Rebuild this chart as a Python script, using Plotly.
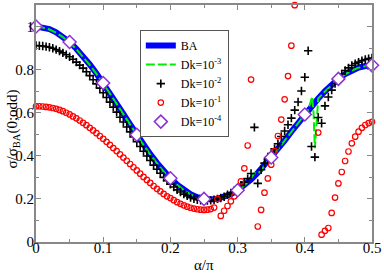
import plotly.graph_objects as go

# ---- data ----
x_ba = [0.00, 0.01, 0.02, 0.03, 0.04, 0.05, 0.06, 0.07, 0.08, 0.09,
        0.10, 0.11, 0.12, 0.13, 0.14, 0.15, 0.16, 0.17, 0.18, 0.19,
        0.20, 0.21, 0.22, 0.23, 0.24, 0.25, 0.26, 0.27, 0.28, 0.29,
        0.30, 0.31, 0.32, 0.33, 0.34, 0.35, 0.36, 0.37, 0.38, 0.39,
        0.40, 0.41, 0.42, 0.43, 0.44, 0.45, 0.46, 0.47, 0.48, 0.49, 0.50]
y_ba = [1.000, 0.997, 0.988, 0.973, 0.953, 0.928, 0.897, 0.863, 0.824, 0.782,
        0.738, 0.691, 0.643, 0.594, 0.546, 0.498, 0.452, 0.408, 0.367, 0.329,
        0.296, 0.266, 0.242, 0.222, 0.208, 0.200, 0.197, 0.200, 0.208, 0.222,
        0.240, 0.263, 0.290, 0.321, 0.356, 0.392, 0.431, 0.471, 0.512, 0.552,
        0.592, 0.630, 0.666, 0.700, 0.730, 0.757, 0.779, 0.797, 0.810, 0.817, 0.820]

x_dk3 = [0.00, 0.01, 0.02, 0.03, 0.04, 0.05, 0.06, 0.07, 0.08, 0.09,
         0.10, 0.11, 0.12, 0.13, 0.14, 0.15, 0.16, 0.17, 0.18, 0.19,
         0.20, 0.21, 0.22, 0.23, 0.24, 0.25, 0.26, 0.27, 0.28, 0.29,
         0.30, 0.31, 0.32, 0.325, 0.33, 0.335, 0.34, 0.35, 0.36, 0.37, 0.38, 0.39,
         0.40, 0.405, 0.411, 0.413, 0.415, 0.418, 0.42, 0.43, 0.44, 0.45,
         0.46, 0.47, 0.48, 0.49, 0.50]
y_dk3 = [0.998, 0.995, 0.986, 0.971, 0.951, 0.926, 0.895, 0.861, 0.822, 0.780,
         0.736, 0.689, 0.641, 0.592, 0.544, 0.496, 0.450, 0.406, 0.365, 0.327,
         0.294, 0.265, 0.241, 0.221, 0.207, 0.199, 0.196, 0.199, 0.207, 0.221,
         0.239, 0.262, 0.295, 0.320, 0.318, 0.330, 0.356, 0.391, 0.430, 0.470, 0.511, 0.551,
         0.592, 0.612, 0.675, 0.600, 0.435, 0.560, 0.666, 0.699, 0.729, 0.756,
         0.778, 0.796, 0.809, 0.816, 0.819]

x_dk2 = [0.000, 0.005, 0.010, 0.015, 0.020, 0.025, 0.030, 0.035, 0.040, 0.045,
         0.050, 0.055, 0.060, 0.065, 0.070, 0.075, 0.080, 0.085, 0.090, 0.095,
         0.100, 0.105, 0.110, 0.115, 0.120, 0.125, 0.130, 0.135, 0.140, 0.145,
         0.150, 0.155, 0.160, 0.165, 0.170, 0.175, 0.180, 0.185, 0.190, 0.195,
         0.200, 0.205, 0.210, 0.215, 0.220, 0.225, 0.230, 0.235, 0.240, 0.245,
         0.250, 0.255, 0.260, 0.265, 0.270, 0.275, 0.280, 0.285, 0.290, 0.295,
         0.300, 0.305, 0.310, 0.315, 0.320, 0.325, 0.330, 0.335, 0.340, 0.345,
         0.350, 0.355, 0.360, 0.365, 0.370, 0.375, 0.380, 0.385, 0.390, 0.395,
         0.400, 0.405, 0.410, 0.415, 0.420, 0.425, 0.430, 0.435, 0.440, 0.445,
         0.450, 0.455, 0.460, 0.465, 0.470, 0.475, 0.480, 0.485, 0.490, 0.495, 0.500]
y_dk2 = [0.912, 0.911, 0.910, 0.907, 0.904, 0.899, 0.893, 0.886, 0.878, 0.869,
         0.860, 0.848, 0.835, 0.821, 0.807, 0.790, 0.772, 0.753, 0.734, 0.714,
         0.693, 0.671, 0.649, 0.626, 0.603, 0.579, 0.557, 0.534, 0.511, 0.488,
         0.465, 0.443, 0.421, 0.399, 0.378, 0.357, 0.338, 0.319, 0.300, 0.284,
         0.268, 0.255, 0.242, 0.232, 0.222, 0.214, 0.206, 0.201, 0.196, 0.194,
         0.192, 0.192, 0.193, 0.196, 0.200, 0.204, 0.210, 0.219, 0.228, 0.239,
         0.250, 0.263, 0.278, 0.294, 0.318, 0.532, 0.272, 0.335, 0.366, 0.387,
         0.410, 0.433, 0.456, 0.490, 0.515, 0.544, 0.575, 0.612, 0.650, 0.701,
         0.765, 0.888, 0.443, 0.394, 0.578, 0.551, 0.632, 0.673, 0.705, 0.735,
         0.765, 0.780, 0.796, 0.808, 0.819, 0.828, 0.835, 0.842, 0.847, 0.851, 0.854]

x_dk1 = [0.000, 0.005, 0.010, 0.015, 0.020, 0.025, 0.030, 0.035, 0.040, 0.045,
         0.050, 0.055, 0.060, 0.065, 0.070, 0.075, 0.080, 0.085, 0.090, 0.095,
         0.100, 0.105, 0.110, 0.115, 0.120, 0.125, 0.130, 0.135, 0.140, 0.145,
         0.150, 0.155, 0.160, 0.165, 0.170, 0.175, 0.180, 0.185, 0.190, 0.195,
         0.200, 0.205, 0.210, 0.215, 0.220, 0.225, 0.230, 0.235, 0.240, 0.245,
         0.250, 0.255, 0.260, 0.265, 0.270, 0.275, 0.280, 0.285, 0.290, 0.295,
         0.300, 0.305, 0.310, 0.315, 0.320, 0.330, 0.335, 0.340, 0.345,
         0.350, 0.355, 0.360, 0.365, 0.370, 0.375, 0.380, 0.385,
         0.420, 0.425, 0.430, 0.435, 0.440, 0.445,
         0.450, 0.455, 0.460, 0.465, 0.470, 0.475, 0.480, 0.485, 0.490, 0.495, 0.500]
y_dk1 = [0.630, 0.630, 0.629, 0.627, 0.625, 0.622, 0.618, 0.613, 0.607, 0.600,
         0.592, 0.583, 0.574, 0.564, 0.553, 0.542, 0.530, 0.518, 0.505, 0.492,
         0.479, 0.465, 0.451, 0.436, 0.422, 0.407, 0.392, 0.377, 0.362, 0.347,
         0.332, 0.317, 0.302, 0.288, 0.274, 0.260, 0.247, 0.235, 0.223, 0.212,
         0.204, 0.194, 0.185, 0.177, 0.170, 0.164, 0.159, 0.155, 0.152, 0.150,
         0.149, 0.150, 0.153, 0.160, 0.200, 0.121, 0.145, 0.167, 0.189, 0.212,
         0.245, 0.281, 0.342, 0.448, 0.754, 0.072, 0.149, 0.229, 0.295,
         0.359, 0.422, 0.492, 0.568, 0.662, 0.770, 0.911, 1.099,
         0.508, 0.034, 0.052, 0.065, 0.135, 0.206,
         0.272, 0.325, 0.376, 0.420, 0.458, 0.489, 0.512, 0.530, 0.543, 0.552, 0.558]

x_dk4 = [0.00, 0.05, 0.10, 0.15, 0.20, 0.25, 0.30, 0.35, 0.40, 0.45, 0.50]
y_dk4 = [1.000, 0.928, 0.738, 0.498, 0.296, 0.200, 0.240, 0.392, 0.592, 0.757, 0.820]

x_ticks = [0, 0.1, 0.2, 0.3, 0.4, 0.5]
x_ticktext = ["0", "0.1", "0.2", "0.3", "0.4", "0.5"]
y_ticks = [0, 0.2, 0.4, 0.6, 0.8, 1.0]
y_ticktext = ["0", "0.2", "0.4", "0.6", "0.8", "1"]

FONT = "Liberation Serif, Times New Roman, serif"
AXC = "#888888"

fig = go.Figure()
fig.add_trace(go.Scatter(x=x_ba, y=y_ba, mode="lines", name="BA",
                         line=dict(color="#0000ff", width=6)))
fig.add_trace(go.Scatter(x=x_dk3, y=y_dk3, mode="lines", name="Dk=10<sup>-3</sup>",
                         line=dict(color="#00ee00", width=2, dash="9px,3px")))
fig.add_trace(go.Scatter(x=x_dk2, y=y_dk2, mode="markers", name="Dk=10<sup>-2</sup>",
                         marker=dict(symbol="cross-thin", size=6,
                                     line=dict(color="black", width=1.6))))
fig.add_trace(go.Scatter(x=x_dk1, y=y_dk1, mode="markers", name="Dk=10<sup>-1</sup>",
                         cliponaxis=False,
                         marker=dict(symbol="circle-open", size=5.5,
                                     line=dict(color="#ff0000", width=1.2),
                                     color="#ff0000")))
fig.add_trace(go.Scatter(x=x_dk4, y=y_dk4, mode="markers", name="Dk=10<sup>-4</sup>",
                         cliponaxis=False,
                         marker=dict(symbol="diamond", size=10, color="white",
                                     line=dict(color="#8a32d2", width=1.5))))

fig.update_layout(
    width=384, height=273,
    margin=dict(l=36, r=11, t=3, b=31),
    paper_bgcolor="white", plot_bgcolor="white",
    font=dict(family=FONT, size=15, color="black"),
    showlegend=True,
    legend=dict(x=0.309, y=0.894, xanchor="left", yanchor="top",
                bgcolor="white", bordercolor="#555555", borderwidth=1,
                font=dict(family=FONT, size=12), itemwidth=30,
                tracegroupgap=0),
    xaxis=dict(range=[0, 0.5], tickvals=x_ticks, ticktext=x_ticktext,
               ticks="inside", ticklen=5, tickwidth=1, tickcolor=AXC,
               showline=True, linecolor=AXC, linewidth=2, mirror="allticks",
               showgrid=False, zeroline=False, ticklabelstandoff=-9,
               minor=dict(ticks="inside", ticklen=3, dtick=0.05, tickcolor=AXC,
                          showgrid=False),
               tickfont=dict(family=FONT, size=15)),
    yaxis=dict(range=[0, 1.1], tickvals=y_ticks, ticktext=y_ticktext,
               ticks="inside", ticklen=5, tickwidth=1, tickcolor=AXC,
               showline=True, linecolor=AXC, linewidth=2, mirror="allticks",
               showgrid=False, zeroline=False, ticklabelstandoff=-3,
               minor=dict(ticks="inside", ticklen=3, dtick=0.1, tickcolor=AXC,
                          showgrid=False),
               tickfont=dict(family=FONT, size=15)),
    annotations=[
        dict(text="α/π", x=0.5, y=0, xref="paper", yref="paper",
             xanchor="center", yanchor="middle", yshift=-23, showarrow=False,
             font=dict(family=FONT, size=15)),
        dict(text="σ/σ<sub>BA</sub>(0;odd)", x=0, y=0.5, xref="paper", yref="paper",
             xanchor="center", yanchor="middle", xshift=-24, yshift=-6,
             textangle=-90, showarrow=False,
             font=dict(family=FONT, size=15)),
    ],
)

fig.write_html("out.html", config={"displayModeBar": False},
               post_script="document.body.style.margin='0';")
